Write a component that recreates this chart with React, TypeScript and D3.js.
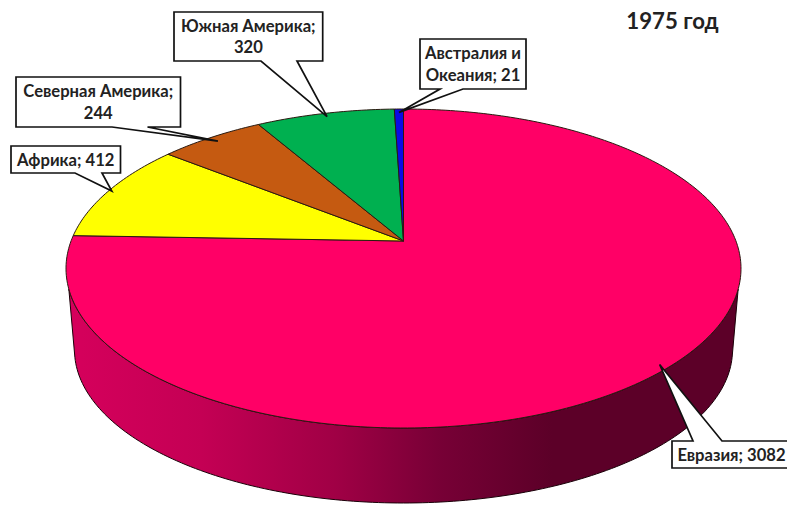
import React from "react";
import * as d3 from "d3";

const regions = ["Евразия", "Африка", "Северная Америка", "Южная Америка", "Австралия и Океания"];
const values = [3082, 412, 244, 320, 21];
const colors = ["#ff0066", "#ffff00", "#c55a11", "#00b050", "#0a0ae6"];
const labelLines = [["Евразия; 3082"], ["Африка; 412"], ["Северная Америка;", "244"], ["Южная Америка;", "320"], ["Австралия и", "Океания; 21"]];
// callout boxes: x0, y0, x1, y1, pointer base a, pointer base b, base on top edge?
const boxes = [
  { x0: 672, y0: 441, x1: 792, y1: 468, a: 693, b: 722, top: true, tipR: 0.975 },
  { x0: 11, y0: 146, x1: 120.5, y1: 173, a: 75, b: 102, top: false, tipR: 0.99 },
  { x0: 16, y0: 77, x1: 180.5, y1: 127, a: 112, b: 147.5, top: false, tipR: 0.96 },
  { x0: 174, y0: 12, x1: 322.7, y1: 61, a: 261, b: 297, top: false, tipR: 0.97 },
  { x0: 420, y0: 39, x1: 526, y1: 89, a: 440, b: 463, top: false, tipR: 0.97 },
];
const title = "1975 год";

const W = 787, H = 506;
const top = { cx: 403.5, cy: 268.5, rx: 337.5, ry: 159.5 };
const bottom = { cx: 403.5, cy: 350, rx: 329, ry: 153 };
const apexY = (241 - top.cy) / top.ry;

// perspective projection of a point on the flat disc (angle clockwise from 12 o'clock, radius 0..1)
const project = (angle: number, r = 1): [number, number] => {
  const x = r * Math.sin(angle);
  const y = -r * Math.cos(angle);
  const d = 1 + y * apexY;
  const X = (x * Math.sqrt(1 - apexY * apexY)) / d;
  const Y = (y + apexY) / d;
  return [top.cx + X * top.rx, top.cy + Y * top.ry];
};

const pieData = d3.pie<number>().sort(null).startAngle(0).endAngle(2 * Math.PI)(values);
const lineGen = d3.line();

const slicePath = (a0: number, a1: number) => {
  const n = Math.max(4, Math.ceil((a1 - a0) * 60));
  const pts: [number, number][] = [project(0, 0)];
  d3.range(n + 1).forEach((i) => pts.push(project(a0 + ((a1 - a0) * i) / n)));
  return lineGen(pts) + "Z";
};

const ell = (e: typeof top, t: number): [number, number] => [e.cx + e.rx * Math.cos(t), e.cy + e.ry * Math.sin(t)];
const sidePath = () => {
  const pts: [number, number][] = [];
  const t0 = 0.13, b0 = 0.05;
  const N = 160;
  d3.range(N + 1).forEach((i) => pts.push(ell(top, t0 + ((Math.PI - 2 * t0) * i) / N)));
  d3.range(N + 1).forEach((i) => pts.push(ell(bottom, Math.PI - b0 - ((Math.PI - 2 * b0) * i) / N)));
  return lineGen(pts) + "Z";
};

const calloutPath = (b: (typeof boxes)[number], tip: [number, number]) => {
  const y = b.top ? b.y0 : b.y1;
  const pts: [number, number][] = b.top
    ? [[b.x0, b.y0], [b.a, y], tip, [b.b, y], [b.x1, b.y0], [b.x1, b.y1], [b.x0, b.y1]]
    : [[b.x0, b.y0], [b.x1, b.y0], [b.x1, b.y1], [b.b, y], tip, [b.a, y], [b.x0, b.y1]];
  return lineGen(pts) + "Z";
};

const font = "Lato, 'Noto Sans', sans-serif";

export default function App() {
  return (
    <svg width={W} height={H} viewBox={`0 0 ${W} ${H}`} style={{ position: "absolute", left: 0, top: 0, background: "#fff" }}>
      <defs>
        <linearGradient id="side" gradientUnits="userSpaceOnUse" x1={66} x2={741} y1={0} y2={0}>
          <stop offset="0" stopColor="#d6005c" />
          <stop offset="0.2" stopColor="#c40054" />
          <stop offset="0.4" stopColor="#a00045" />
          <stop offset="0.55" stopColor="#780036" />
          <stop offset="0.72" stopColor="#5c0028" />
          <stop offset="1" stopColor="#5c0028" />
        </linearGradient>
      </defs>
      <path d={sidePath()} fill="url(#side)" stroke="#1a0008" strokeWidth={1} />
      {pieData.map((d, i) => (
        <path key={i} d={slicePath(d.startAngle, d.endAngle)} fill={colors[i]} stroke="#2a1a10" strokeWidth={1} strokeLinejoin="round" />
      ))}
      {pieData.map((d, i) => {
        const b = boxes[i];
        const tip = project((d.startAngle + d.endAngle) / 2, b.tipR);
        const lines = labelLines[i];
        const cx = (b.x0 + Math.min(b.x1, 792)) / 2 - (i === 0 ? 0.5 : 0);
        const cy = (b.y0 + b.y1) / 2;
        return (
          <g key={regions[i]}>
            <path d={calloutPath(b, tip)} fill="#fff" stroke="#111" strokeWidth={1.7} strokeLinejoin="miter" />
            {lines.map((l, j) => (
              <text key={j} x={cx} y={cy + (j - (lines.length - 1) / 2) * 21.5 + 6} textAnchor="middle" fontFamily={font} fontWeight={700} fontSize={16.6} fill="#222">
                {l}
              </text>
            ))}
          </g>
        );
      })}
      <text x={672.5} y={28.5} textAnchor="middle" fontFamily={font} fontWeight={700} fontSize={22.2} fill="#222">
        {title}
      </text>
    </svg>
  );
}
